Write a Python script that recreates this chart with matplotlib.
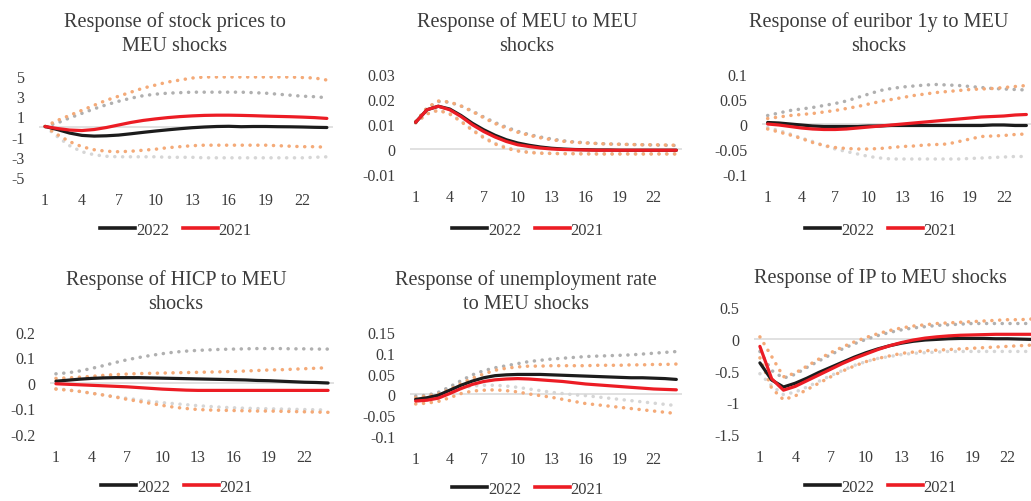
import matplotlib
matplotlib.use("Agg")
import matplotlib.pyplot as plt
from matplotlib.lines import Line2D

# ---------------------------------------------------------------- data
periods = list(range(1, 25))
xtick_values = [1, 4, 7, 10, 13, 16, 19, 22]

# Response of stock prices to MEU shocks
stock_2022 = [0, -0.3, -0.65, -0.88, -0.95, -0.92, -0.85, -0.72, -0.58, -0.45, -0.33, -0.22,
              -0.12, -0.05, 0.0, 0.02, -0.02, 0.0, 0.0, -0.02, -0.03, -0.05, -0.08, -0.1]
stock_2022_hi = [0, 0.35, 0.85, 1.3, 1.75, 2.15, 2.5, 2.8, 3.05, 3.2, 3.3, 3.35,
                 3.4, 3.4, 3.4, 3.4, 3.4, 3.35, 3.3, 3.2, 3.1, 3.0, 2.95, 2.85]
stock_2022_lo = [0, -1.0, -1.9, -2.5, -2.8, -2.95, -3.0, -3.0, -3.0, -3.0, -3.05, -3.05,
                 -3.05, -3.1, -3.1, -3.1, -3.1, -3.1, -3.1, -3.1, -3.1, -3.1, -3.05, -3.0]
stock_2021 = [0, -0.2, -0.35, -0.4, -0.3, -0.1, 0.15, 0.4, 0.6, 0.75, 0.88, 0.98,
              1.05, 1.1, 1.12, 1.12, 1.1, 1.07, 1.03, 1.0, 0.97, 0.93, 0.88, 0.8]
stock_2021_hi = [0, 0.6, 1.1, 1.6, 2.1, 2.6, 3.0, 3.4, 3.8, 4.1, 4.4, 4.6,
                 4.8, 4.9, 4.9, 4.9, 4.9, 4.9, 4.9, 4.9, 4.9, 4.85, 4.8, 4.6]
stock_2021_lo = [0, -0.8, -1.5, -2.0, -2.3, -2.45, -2.5, -2.45, -2.35, -2.25, -2.1, -2.0,
                 -1.9, -1.85, -1.85, -1.85, -1.85, -1.85, -1.85, -1.9, -1.95, -2.0, -2.0, -2.05]

# Response of MEU to MEU shocks
meu_2022 = [0.0107, 0.0157, 0.0171, 0.0160, 0.0134, 0.0103, 0.0077, 0.0055, 0.0037, 0.0024, 0.0015, 0.0008,
            0.0003, 0.0, -0.0002, -0.0003, -0.0004, -0.0004, -0.0005, -0.0005, -0.0005, -0.0005, -0.0005, -0.0005]
meu_2022_hi = [0.0110, 0.0163, 0.0190, 0.0187, 0.0172, 0.0152, 0.0128, 0.0106, 0.0087, 0.0071, 0.0058, 0.0048,
               0.0040, 0.0033, 0.0028, 0.0025, 0.0022, 0.0020, 0.0019, 0.0018, 0.0017, 0.0016, 0.0015, 0.0014]
meu_2022_lo = [0.0104, 0.0142, 0.0156, 0.0142, 0.0112, 0.0078, 0.0048, 0.0023, 0.0006, -0.0006, -0.0012, -0.0016,
               -0.0017, -0.0018, -0.0018, -0.0018, -0.0019, -0.0019, -0.0019, -0.0019, -0.0019, -0.0019, -0.0019, -0.0019]
meu_2021 = [0.0107, 0.0157, 0.0171, 0.0157, 0.0130, 0.0097, 0.0070, 0.0048, 0.0030, 0.0017, 0.0010, 0.0004,
            0.0, -0.0002, -0.0003, -0.0004, -0.0005, -0.0005, -0.0005, -0.0005, -0.0005, -0.0005, -0.0005, -0.0005]
meu_2021_hi = [0.0110, 0.0165, 0.0192, 0.0188, 0.0172, 0.0150, 0.0125, 0.0102, 0.0083, 0.0067, 0.0055, 0.0045,
               0.0037, 0.0031, 0.0027, 0.0024, 0.0022, 0.0020, 0.0019, 0.0018, 0.0017, 0.0017, 0.0016, 0.0015]
meu_2021_lo = [0.0105, 0.0140, 0.0155, 0.0140, 0.0110, 0.0075, 0.0045, 0.0020, 0.0003, -0.0008, -0.0014, -0.0017,
               -0.0018, -0.0019, -0.0019, -0.0020, -0.0020, -0.0020, -0.0020, -0.0020, -0.0020, -0.0020, -0.0020, -0.0020]

# Response of euribor 1y to MEU shocks
eur_2022 = [0.003, 0.002, 0.0, -0.002, -0.004, -0.005, -0.005, -0.005, -0.005, -0.004, -0.004, -0.003,
            -0.003, -0.003, -0.003, -0.003, -0.003, -0.003, -0.003, -0.003, -0.002, -0.002, -0.003, -0.003]
eur_2022_hi = [0.017, 0.022, 0.027, 0.030, 0.033, 0.037, 0.041, 0.046, 0.053, 0.060, 0.067, 0.071,
               0.074, 0.076, 0.078, 0.079, 0.078, 0.077, 0.075, 0.073, 0.071, 0.070, 0.069, 0.068]
eur_2022_lo = [-0.007, -0.013, -0.020, -0.028, -0.035, -0.043, -0.050, -0.055, -0.060, -0.065, -0.068, -0.070,
               -0.070, -0.070, -0.070, -0.070, -0.070, -0.070, -0.069, -0.068, -0.067, -0.066, -0.065, -0.065]
eur_2021 = [0.0, -0.002, -0.005, -0.008, -0.010, -0.011, -0.011, -0.010, -0.008, -0.006, -0.004, -0.002,
            0.0, 0.002, 0.004, 0.006, 0.008, 0.010, 0.012, 0.014, 0.015, 0.016, 0.018, 0.019]
eur_2021_hi = [0.011, 0.014, 0.017, 0.019, 0.021, 0.024, 0.027, 0.031, 0.035, 0.040, 0.045, 0.049,
               0.053, 0.057, 0.060, 0.063, 0.065, 0.067, 0.069, 0.070, 0.071, 0.073, 0.075, 0.077]
eur_2021_lo = [-0.010, -0.016, -0.022, -0.029, -0.037, -0.043, -0.047, -0.049, -0.050, -0.050, -0.049, -0.047,
               -0.045, -0.044, -0.042, -0.041, -0.040, -0.035, -0.030, -0.025, -0.024, -0.023, -0.021, -0.020]

# Response of HICP to MEU shocks
hicp_2022 = [0.007, 0.011, 0.015, 0.018, 0.020, 0.021, 0.021, 0.021, 0.020, 0.019, 0.018, 0.017,
             0.016, 0.015, 0.014, 0.013, 0.012, 0.010, 0.009, 0.007, 0.005, 0.003, 0.002, 0.0]
hicp_2022_hi = [0.036, 0.040, 0.047, 0.057, 0.068, 0.080, 0.091, 0.100, 0.108, 0.115, 0.121, 0.125,
                0.128, 0.130, 0.132, 0.133, 0.134, 0.135, 0.135, 0.135, 0.134, 0.134, 0.133, 0.133]
hicp_2022_lo = [-0.022, -0.027, -0.033, -0.040, -0.047, -0.054, -0.060, -0.066, -0.072, -0.077, -0.081, -0.085,
                -0.089, -0.092, -0.095, -0.097, -0.099, -0.100, -0.101, -0.102, -0.103, -0.104, -0.105, -0.106]
hicp_2021 = [-0.003, -0.005, -0.007, -0.009, -0.011, -0.013, -0.015, -0.018, -0.021, -0.024, -0.026, -0.028,
             -0.029, -0.029, -0.029, -0.029, -0.029, -0.029, -0.029, -0.029, -0.029, -0.029, -0.029, -0.029]
hicp_2021_hi = [0.018, 0.020, 0.023, 0.026, 0.030, 0.033, 0.035, 0.037, 0.038, 0.039, 0.040, 0.041,
                0.042, 0.043, 0.044, 0.045, 0.047, 0.049, 0.051, 0.052, 0.054, 0.056, 0.058, 0.060]
hicp_2021_lo = [-0.024, -0.028, -0.033, -0.040, -0.047, -0.055, -0.064, -0.072, -0.080, -0.088, -0.095, -0.100,
                -0.104, -0.106, -0.107, -0.108, -0.109, -0.110, -0.110, -0.111, -0.112, -0.113, -0.114, -0.115]

# Response of unemployment rate to MEU shocks
unemp_2022 = [-0.012, -0.008, -0.002, 0.010, 0.022, 0.032, 0.040, 0.045, 0.047, 0.048, 0.048, 0.048,
              0.047, 0.046, 0.045, 0.044, 0.043, 0.042, 0.041, 0.040, 0.040, 0.039, 0.038, 0.036]
unemp_2022_hi = [-0.004, -0.002, 0.005, 0.018, 0.033, 0.047, 0.057, 0.064, 0.069, 0.074, 0.079, 0.082,
                 0.085, 0.087, 0.089, 0.091, 0.092, 0.093, 0.094, 0.095, 0.097, 0.099, 0.101, 0.103]
unemp_2022_lo = [-0.010, -0.008, -0.003, 0.006, 0.014, 0.020, 0.022, 0.022, 0.020, 0.017, 0.013, 0.009,
                 0.005, 0.002, -0.001, -0.003, -0.006, -0.009, -0.012, -0.015, -0.018, -0.021, -0.024, -0.027]
unemp_2021 = [-0.016, -0.014, -0.009, 0.002, 0.014, 0.024, 0.031, 0.035, 0.037, 0.038, 0.037, 0.035,
              0.033, 0.031, 0.028, 0.025, 0.023, 0.021, 0.019, 0.017, 0.015, 0.013, 0.012, 0.011]
unemp_2021_hi = [-0.008, -0.004, 0.001, 0.012, 0.026, 0.039, 0.049, 0.058, 0.063, 0.066, 0.068, 0.068,
                 0.069, 0.069, 0.069, 0.069, 0.070, 0.070, 0.070, 0.071, 0.071, 0.072, 0.072, 0.073]
unemp_2021_lo = [-0.023, -0.021, -0.017, -0.008, 0.002, 0.008, 0.010, 0.011, 0.009, 0.006, 0.001, -0.003,
                 -0.007, -0.012, -0.017, -0.022, -0.025, -0.028, -0.031, -0.034, -0.037, -0.040, -0.043, -0.046]

# Response of IP to MEU shocks
ip_2022 = [-0.38, -0.65, -0.76, -0.70, -0.62, -0.53, -0.45, -0.37, -0.29, -0.22, -0.16, -0.11,
           -0.07, -0.04, -0.02, -0.01, 0.0, 0.005, 0.005, 0.005, 0.0, 0.0, -0.005, -0.01]
ip_2022_hi = [-0.20, -0.50, -0.62, -0.56, -0.45, -0.35, -0.25, -0.16, -0.08, -0.01, 0.05, 0.10,
              0.14, 0.17, 0.19, 0.21, 0.22, 0.23, 0.24, 0.24, 0.24, 0.24, 0.24, 0.24]
ip_2022_lo = [-0.55, -0.74, -0.88, -0.84, -0.76, -0.67, -0.58, -0.50, -0.42, -0.36, -0.31, -0.28,
              -0.25, -0.23, -0.22, -0.21, -0.20, -0.20, -0.20, -0.20, -0.20, -0.20, -0.20, -0.20]
ip_2021 = [-0.12, -0.63, -0.81, -0.75, -0.66, -0.57, -0.48, -0.39, -0.31, -0.24, -0.17, -0.11,
           -0.06, -0.02, 0.01, 0.03, 0.045, 0.055, 0.06, 0.065, 0.07, 0.07, 0.07, 0.07]
ip_2021_hi = [0.03, -0.28, -0.60, -0.54, -0.43, -0.32, -0.22, -0.13, -0.05, 0.02, 0.08, 0.13,
              0.17, 0.20, 0.22, 0.24, 0.25, 0.26, 0.27, 0.28, 0.29, 0.30, 0.30, 0.31]
ip_2021_lo = [-0.30, -0.78, -0.96, -0.90, -0.80, -0.70, -0.60, -0.51, -0.43, -0.36, -0.31, -0.27,
              -0.23, -0.21, -0.19, -0.18, -0.17, -0.16, -0.15, -0.14, -0.13, -0.12, -0.11, -0.10]

# ---------------------------------------------------------------- style
W, H = 1031, 502
FONT = ["Liberation Serif", "DejaVu Serif"]
TEXT = "#3c3c3c"
C_2022 = "#1c1c1c"
C_2021 = "#ec1c24"
C_HI_2022 = "#b0b0b0"
C_LO_2022 = "#d6d6d6"
C_BAND_2021 = "#f4aa78"

plt.rcParams["font.family"] = FONT

fig = plt.figure(figsize=(W / 100, H / 100), dpi=100)

# panel specs: title lines (center x, baselines), plot box in pixels, y ticks/labels, legend centre
panels = [
    dict(title=["Response of stock prices to", "MEU shocks"], tx=175, ty=[27, 51],
         box=(39, 333, 77, 178), ylim=(-5, 5),
         yticks=[5, 3, 1, -1, -3, -5], ylabels=["5", "3", "1", "-1", "-3", "-5"],
         series=(stock_2022, stock_2022_hi, stock_2022_lo, stock_2021, stock_2021_hi, stock_2021_lo),
         leg=(176, 231)),
    dict(title=["Response of MEU to MEU", "shocks"], tx=527, ty=[27, 51],
         box=(410, 682, 75, 175), ylim=(-0.01, 0.03),
         yticks=[0.03, 0.02, 0.01, 0, -0.01], ylabels=["0.03", "0.02", "0.01", "0", "-0.01"],
         series=(meu_2022, meu_2022_hi, meu_2022_lo, meu_2021, meu_2021_hi, meu_2021_lo),
         leg=(528, 231)),
    dict(title=["Response of euribor 1y to MEU", "shocks"], tx=879, ty=[27, 51],
         box=(762, 1032, 75, 175), ylim=(-0.1, 0.1),
         yticks=[0.1, 0.05, 0, -0.05, -0.1], ylabels=["0.1", "0.05", "0", "-0.05", "-0.1"],
         series=(eur_2022, eur_2022_hi, eur_2022_lo, eur_2021, eur_2021_hi, eur_2021_lo),
         leg=(881, 231)),
    dict(title=["Response of HICP to MEU", "shocks"], tx=176, ty=[285, 309],
         box=(50, 334, 333, 435), ylim=(-0.2, 0.2),
         yticks=[0.2, 0.1, 0, -0.1, -0.2], ylabels=["0.2", "0.1", "0", "-0.1", "-0.2"],
         series=(hicp_2022, hicp_2022_hi, hicp_2022_lo, hicp_2021, hicp_2021_hi, hicp_2021_lo),
         leg=(177, 488)),
    dict(title=["Response of unemployment rate", "to MEU shocks"], tx=526, ty=[285, 309],
         box=(410, 682, 333, 437), ylim=(-0.1, 0.15),
         yticks=[0.15, 0.1, 0.05, 0, -0.05, -0.1],
         ylabels=["0.15", "0.1", "0.05", "0", "-0.05", "-0.1"],
         series=(unemp_2022, unemp_2022_hi, unemp_2022_lo, unemp_2021, unemp_2021_hi, unemp_2021_lo),
         leg=(528, 490)),
    dict(title=["Response of IP to MEU shocks"], tx=880, ty=[283],
         box=(754, 1037, 308, 435), ylim=(-1.5, 0.5),
         yticks=[0.5, 0, -0.5, -1, -1.5], ylabels=["0.5", "0", "-0.5", "-1", "-1.5"],
         series=(ip_2022, ip_2022_hi, ip_2022_lo, ip_2021, ip_2021_hi, ip_2021_lo),
         leg=(881, 488)),
]

# round-dot dash pattern: tiny dash with round caps gives a dot of the line width
dot = dict(linestyle=(0, (0.05, 2.2)), dash_capstyle="round", linewidth=2.5)

for p in panels:
    l, r, t, b = p["box"]
    ax = fig.add_axes([l / W, 1 - b / H, (r - l) / W, (b - t) / H])
    ax.set_xlim(0.5, 24.5)
    ax.set_ylim(*p["ylim"])
    for s in ax.spines.values():
        s.set_visible(False)
    ax.axhline(0, color="#d9d9d9", linewidth=1.1, zorder=1)

    y22, y22_hi, y22_lo, y21, y21_hi, y21_lo = p["series"]
    ax.plot(periods, y22_lo, color=C_LO_2022, zorder=2, **dot)
    ax.plot(periods, y22_hi, color=C_HI_2022, zorder=2, **dot)
    ax.plot(periods, y21_lo, color=C_BAND_2021, zorder=3, **dot)
    ax.plot(periods, y21_hi, color=C_BAND_2021, zorder=3, **dot)
    ax.plot(periods, y22, color=C_2022, linewidth=2.3, solid_capstyle="round", zorder=4)
    ax.plot(periods, y21, color=C_2021, linewidth=2.3, solid_capstyle="round", zorder=5)

    ax.set_xticks(xtick_values)
    ax.set_xticklabels([str(v) for v in xtick_values])
    ax.set_yticks(p["yticks"])
    ax.set_yticklabels(p["ylabels"])
    ax.tick_params(axis="both", length=0, labelsize=11.5, labelcolor=TEXT)
    ax.tick_params(axis="y", pad=10.5)
    ax.tick_params(axis="x", pad=10.5)

    for line, yb in zip(p["title"], p["ty"]):
        fig.text(p["tx"] / W, 1 - yb / H, line, ha="center", va="baseline",
                 fontsize=14.6, color=TEXT)

    handles = [Line2D([], [], color=C_2022, linewidth=2.6),
               Line2D([], [], color=C_2021, linewidth=2.6)]
    lx, ly = p["leg"]
    fig.legend(handles, ["2022", "2021"], loc="center", ncol=2,
               bbox_to_anchor=(lx / W, 1 - ly / H), frameon=False,
               fontsize=12, labelcolor=TEXT, handlelength=2.1, handletextpad=0.05,
               columnspacing=0.8, borderpad=0, borderaxespad=0)

fig.savefig("out.png", dpi=100)
